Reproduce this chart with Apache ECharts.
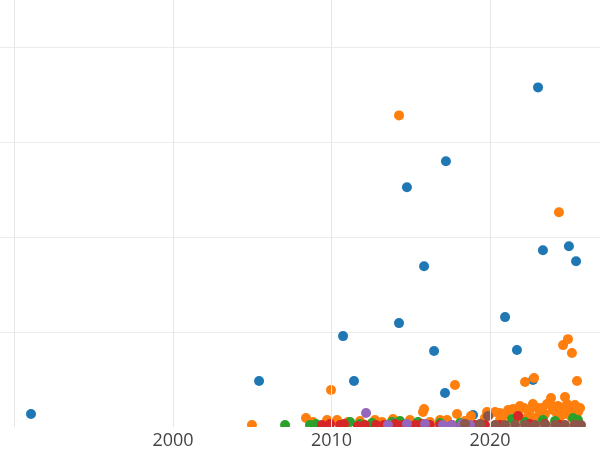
<!DOCTYPE html>
<html>
<head>
<meta charset="utf-8">
<script src="https://cdn.jsdelivr.net/npm/echarts@6/dist/echarts.min.js"></script>
<style>html,body{margin:0;padding:0;background:#fff}#chart{width:600px;height:450px}</style>
</head>
<body>
<div id="chart"></div>
<script>
// x tick labels shown
const xTickLabels = [2000, 2010, 2020];

const blueYears = [1991.04, 2005.43, 2010.73, 2011.42, 2014.26, 2014.76, 2015.84, 2016.47, 2017.22, 2017.16, 2018.93, 2020.95, 2021.70, 2022.71, 2023.03, 2023.34, 2024.98, 2025.43];
const blueValues = [13.7, 48.4, 95.8, 48.4, 109.5, 252.6, 169.5, 80.0, 280.0, 35.8, 12.6, 115.8, 81.1, 49.5, 357.9, 186.3, 190.5, 174.7];

const orangeYears = [2014.26, 2024.35, 2024.61, 2024.92, 2025.17, 2025.49, 2022.21, 2022.78, 2017.79, 2009.97, 2004.98, 2008.39, 2008.83, 2009.72, 2010.35, 2011.04, 2012.74, 2013.19, 2013.82, 2015.84, 2015.77, 2014.95, 2013.88, 2017.29, 2017.92, 2018.80, 2019.81, 2019.94, 2020.32, 2020.63, 2021.14, 2021.45, 2021.89, 2022.15, 2022.52, 2023.03, 2023.28, 2023.60, 2023.79, 2023.97, 2024.29, 2024.54, 2024.73, 2024.86, 2025.05, 2025.36, 2025.55, 2025.17, 2024.42, 2023.47, 2022.40, 2021.58, 2020.63, 2022.84, 2011.80, 2016.85, 2018.42, 2016.21, 2019.68, 2020.95, 2021.77, 2022.71, 2023.15, 2024.16, 2024.79, 2025.68, 2023.85, 2021.89];
const orangeValues = [328.4, 226.3, 86.3, 92.6, 77.9, 48.4, 47.4, 51.6, 44.2, 38.9, 2.1, 9.5, 5.3, 7.4, 7.4, 5.3, 7.4, 5.3, 6.3, 18.9, 15.8, 7.4, 8.4, 7.4, 13.7, 11.6, 15.8, 12.6, 15.8, 14.7, 17.9, 18.9, 22.1, 20.0, 17.9, 20.0, 20.0, 24.2, 25.3, 17.9, 22.1, 18.9, 31.6, 24.2, 17.9, 23.2, 15.8, 9.5, 10.5, 13.7, 11.6, 9.5, 7.4, 9.5, 6.3, 7.4, 6.3, 5.3, 9.5, 12.6, 16.8, 24.2, 15.8, 15.8, 13.7, 20.0, 30.5, 9.5];

const greenYears = [2007.07, 2008.64, 2009.02, 2011.17, 2011.80, 2012.56, 2013.82, 2014.32, 2015.46, 2016.85, 2018.11, 2021.39, 2022.21, 2023.34, 2024.10, 2025.24, 2025.55];
const greenValues = [2.1, 2.1, 3.2, 5.3, 3.2, 4.2, 5.3, 6.3, 5.3, 4.2, 4.2, 8.4, 5.3, 7.4, 6.3, 9.5, 7.4];

const redYears = [2021.77, 2009.40, 2009.91, 2010.54, 2010.79, 2011.67, 2012.11, 2012.81, 2013.31, 2014.01, 2014.51, 2015.27, 2015.71, 2016.21, 2016.85, 2017.60, 2018.23, 2019.05, 2019.68, 2020.63, 2022.52, 2023.47, 2024.42, 2025.36];
const redValues = [11.6, 2.1, 3.2, 2.1, 3.2, 1.1, 2.1, 2.1, 2.1, 3.2, 2.1, 2.1, 3.2, 2.1, 2.1, 2.1, 2.1, 2.1, 2.1, 2.1, 3.2, 3.2, 2.1, 2.1];

const purpleYears = [2012.18, 2013.56, 2014.76, 2015.90, 2017.03, 2017.60, 2018.23, 2018.74];
const purpleValues = [14.7, 2.1, 3.2, 3.2, 2.1, 2.1, 3.2, 2.1];

const brownYears = [2019.87, 2018.42, 2019.37, 2020.32, 2020.95, 2021.58, 2022.21, 2022.84, 2023.47, 2024.10, 2024.73, 2025.36, 2025.74];
const brownValues = [11.6, 3.2, 3.2, 2.1, 2.1, 2.1, 2.1, 2.1, 2.1, 2.1, 2.1, 2.1, 2.1];

const seriesDefs = [
  {name: 'A', color: '#1f77b4', xs: blueYears, ys: blueValues},
  {name: 'B', color: '#ff7f0e', xs: orangeYears, ys: orangeValues},
  {name: 'C', color: '#2ca02c', xs: greenYears, ys: greenValues},
  {name: 'D', color: '#d62728', xs: redYears, ys: redValues},
  {name: 'E', color: '#9467bd', xs: purpleYears, ys: purpleValues},
  {name: 'F', color: '#8c564b', xs: brownYears, ys: brownValues}
];

const chart = echarts.init(document.getElementById('chart'), null, {renderer: 'canvas'});
chart.setOption({
  animation: false,
  backgroundColor: '#fff',
  grid: {left: -144, right: -48.5, top: 0, bottom: 23, containLabel: false, outerBoundsMode: 'none'},
  // white strip below the plot area so markers are clipped at the axis like the reference
  graphic: [{
    type: 'rect', z: 50, silent: true,
    shape: {x: 0, y: 427, width: 600, height: 23},
    style: {fill: '#fff'}
  }],
  xAxis: {
    type: 'value', min: 1980, max: 2030, interval: 10, z: 60,
    axisLine: {show: false}, axisTick: {show: false},
    splitLine: {show: true, lineStyle: {color: '#e6e6e6', width: 1}},
    axisLabel: {
      margin: 5, color: '#444', fontSize: 18, fontFamily: 'Open Sans',
      formatter: v => xTickLabels.indexOf(v) >= 0 ? String(v) : ''
    }
  },
  yAxis: {
    type: 'value', min: 0, max: 450, interval: 100,
    axisLine: {show: false}, axisTick: {show: false}, axisLabel: {show: false},
    splitLine: {show: true, showMinLine: false, showMaxLine: false, lineStyle: {color: '#ebebeb', width: 1}}
  },
  series: seriesDefs.map(s => ({
    type: 'scatter', name: s.name, symbolSize: 10, clip: true,
    itemStyle: {color: s.color, opacity: 1},
    data: s.xs.map((x, i) => [x, s.ys[i]])
  }))
});
</script>
</body>
</html>
